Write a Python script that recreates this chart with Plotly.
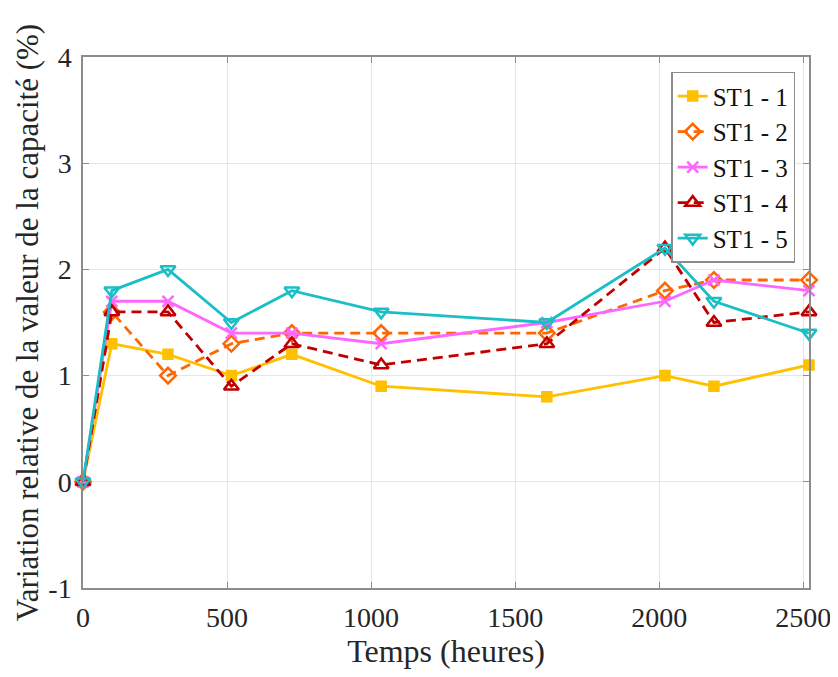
import plotly.graph_objects as go

hours = [0, 100, 295, 515, 725, 1035, 1610, 2020, 2190, 2520]
st1_1 = [0, 1.3, 1.2, 1.0, 1.2, 0.9, 0.8, 1.0, 0.9, 1.1]
st1_2 = [0, 1.6, 1.0, 1.3, 1.4, 1.4, 1.4, 1.8, 1.9, 1.9]
st1_3 = [0, 1.7, 1.7, 1.4, 1.4, 1.3, 1.5, 1.7, 1.9, 1.8]
st1_4 = [0, 1.6, 1.6, 0.9, 1.3, 1.1, 1.3, 2.2, 1.5, 1.6]
st1_5 = [0, 1.8, 2.0, 1.5, 1.8, 1.6, 1.5, 2.2, 1.7, 1.4]

x_ticks = [0, 500, 1000, 1500, 2000, 2500]
y_ticks = [-1, 0, 1, 2, 3, 4]
y_tick_labels = ["-1", "0", "1", "2", "3", "4"]

names = ["ST1 - 1", "ST1 - 2", "ST1 - 3", "ST1 - 4", "ST1 - 5"]
colors = ["#FFC000", "#FF6600", "#FF66FF", "#C00000", "#1ABFC6"]
symbols = ["square", "diamond-open", "x-thin-open", "triangle-up-open", "triangle-down-open"]
dashes = ["solid", "10px,6px", "solid", "10px,6px", "solid"]
sizes = [9, 12, 11, 13, 13]
series = [st1_1, st1_2, st1_3, st1_4, st1_5]

fig = go.Figure()
for name, ys, c, sym, d, s in zip(names, series, colors, symbols, dashes, sizes):
    fig.add_trace(go.Scatter(
        x=hours, y=ys, name=name, mode="lines+markers",
        line=dict(color=c, width=2.8, dash=d),
        marker=dict(symbol=sym, size=s, color=c, line=dict(color=c, width=2.5)),
        cliponaxis=False,
    ))

font_family = "Liberation Serif, Times New Roman, serif"
fig.update_layout(
    width=830, height=669,
    margin=dict(l=75, r=29, t=49, b=89),
    paper_bgcolor="white", plot_bgcolor="white",
    font=dict(family=font_family, size=28, color="#262626"),
    showlegend=True,
    legend=dict(
        x=0.981, y=0.972, xanchor="right", yanchor="top",
        bgcolor="white", bordercolor="#8c8c8c", borderwidth=1.5,
        font=dict(family=font_family, size=25, color="#111111"),
        tracegroupgap=0, itemwidth=30,
    ),
    xaxis=dict(
        range=[0, 2520], tickvals=x_ticks,
        showgrid=True, gridcolor="#e6e6e6", gridwidth=1,
        showline=True, linecolor="#8c8c8c", linewidth=1.5, mirror="ticks",
        ticks="inside", ticklen=6, tickcolor="#8c8c8c",
        zeroline=False, automargin=False, ticklabelstandoff=4,
        title=dict(text="Temps (heures)", font=dict(size=32, family=font_family, color="#262626"), standoff=4),
        tickfont=dict(size=28),
    ),
    yaxis=dict(
        range=[-1, 4], tickvals=y_ticks, ticktext=y_tick_labels,
        showgrid=True, gridcolor="#e6e6e6", gridwidth=1,
        showline=True, linecolor="#8c8c8c", linewidth=1.5, mirror="ticks",
        ticks="inside", ticklen=6, tickcolor="#8c8c8c",
        zeroline=False, automargin=False, ticklabelstandoff=4,
        title=dict(text="Variation relative de la valeur de la capacité (%)", font=dict(size=31, family=font_family, color="#262626"), standoff=0),
        tickfont=dict(size=28),
    ),
)

fig.write_html("out.html")
